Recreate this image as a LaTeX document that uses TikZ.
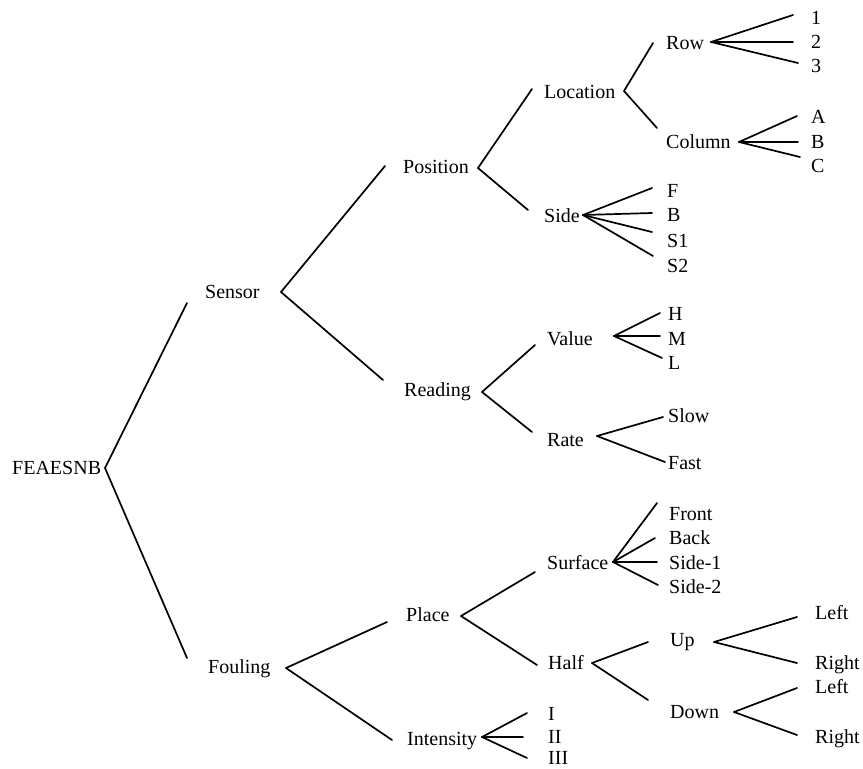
\documentclass[tikz,border=0pt]{standalone}
\usepackage{fontspec}
\setmainfont{Liberation Serif}
\begin{document}
\begin{tikzpicture}[x=1pt,y=-1pt,
  lbl/.style={anchor=west,inner sep=0pt,text height=13.4pt,text depth=0pt,
    font=\fontsize{20}{23}\selectfont},
  edge/.style={line width=1.7pt,line cap=round}]
\useasboundingbox (0,0) rectangle (863,769);

% ---------- labels ----------
\node[lbl] (root) at (12,468) {FEAESNB};
\node[lbl] (sensor) at (205,292) {Sensor};
\node[lbl] (fouling) at (208,667) {Fouling};
\node[lbl] (position) at (403,167) {Position};
\node[lbl] (reading) at (404,390) {Reading};
\node[lbl] (place) at (406,615) {Place};
\node[lbl] (intensity) at (407,739) {Intensity};
\node[lbl] (location) at (544,92) {Location};
\node[lbl] (side) at (544,216) {Side};
\node[lbl] (value) at (547,339) {Value};
\node[lbl] (rate) at (547,440) {Rate};
\node[lbl] (surface) at (547,563) {Surface};
\node[lbl] (half) at (548,663) {Half};
\node[lbl] (up) at (670,640) {Up};
\node[lbl] (down) at (670,712) {Down};
\node[lbl] (row) at (666,43) {Row};
\node[lbl] (column) at (666,142) {Column};

\node[lbl] (r1) at (811,18) {1};
\node[lbl] (r2) at (811,42) {2};
\node[lbl] (r3) at (811,66) {3};
\node[lbl] (ca) at (811,117) {A};
\node[lbl] (cb) at (811,142) {B};
\node[lbl] (cc) at (811,166) {C};
\node[lbl] (sf) at (667,191) {F};
\node[lbl] (sb) at (667,215) {B};
\node[lbl] (s1) at (667,241) {S1};
\node[lbl] (s2) at (667,266) {S2};
\node[lbl] (vh) at (668,314) {H};
\node[lbl] (vm) at (668,339) {M};
\node[lbl] (vl) at (668,363) {L};
\node[lbl] (slow) at (668,416) {Slow};
\node[lbl] (fast) at (668,463) {Fast};
\node[lbl] (front) at (669,514) {Front};
\node[lbl] (back) at (669,538) {Back};
\node[lbl] (sideone) at (669,563) {Side-1};
\node[lbl] (sidetwo) at (669,587) {Side-2};
\node[lbl] (upl) at (815,613) {Left};
\node[lbl] (upr) at (815,663) {Right};
\node[lbl] (downl) at (815,687) {Left};
\node[lbl] (downr) at (815,737) {Right};
\node[lbl] (i1) at (548,714) {I};
\node[lbl] (i2) at (548,737) {II};
\node[lbl] (i3) at (548,758) {III};

% ---------- fork points ----------
\coordinate (root-v) at (105,468);
\coordinate (sensor-v) at (281,292);
\coordinate (fouling-v) at (286,668);
\coordinate (position-v) at (478,168);
\coordinate (reading-v) at (482,392);
\coordinate (place-v) at (461,616);
\coordinate (intensity-v) at (482,737);
\coordinate (location-v) at (624,91);
\coordinate (side-v) at (583,215);
\coordinate (value-v) at (614,336);
\coordinate (rate-v) at (597,436);
\coordinate (surface-v) at (613,562);
\coordinate (half-v) at (592,663);
\coordinate (up-v) at (714,642);
\coordinate (down-v) at (734,712);
\coordinate (row-v) at (711,42);
\coordinate (column-v) at (739,142);

% ---------- branches ----------
\begin{scope}[edge]
\draw (root-v) -- ([shift={(-18,11)}]sensor.west);
\draw (root-v) -- ([shift={(-21,-9)}]fouling.west);

\draw (sensor-v) -- ([shift={(-18,-1)}]position.west);
\draw (sensor-v) -- ([shift={(-21,-10)}]reading.west);

\draw (fouling-v) -- ([shift={(-19,7)}]place.west);
\draw (fouling-v) -- ([shift={(-15,1)}]intensity.west);

\draw (position-v) -- ([shift={(-12,-3)}]location.west);
\draw (position-v) -- ([shift={(-16,-6)}]side.west);

\draw (reading-v) -- ([shift={(-12,6)}]value.west);
\draw (reading-v) -- ([shift={(-15,-8)}]rate.west);

\draw (place-v) -- ([shift={(-12,9)}]surface.west);
\draw (place-v) -- ([shift={(-11,2)}]half.west);

\draw (intensity-v) -- ([shift={(-21,-1)}]i1.west);
\draw (intensity-v) -- ([shift={(-25,0)}]i2.west);
\draw (intensity-v) -- ([shift={(-21,0)}]i3.west);

\draw (location-v) -- ([shift={(-13,0)}]row.west);
\draw (location-v) -- ([shift={(-9,-14)}]column.west);

\draw (side-v) -- ([shift={(-15,-3)}]sf.west);
\draw (side-v) -- ([shift={(-15,-2)}]sb.west);
\draw (side-v) -- ([shift={(-15,-9)}]s1.west);
\draw (side-v) -- ([shift={(-14,-10)}]s2.west);

\draw (row-v) -- ([shift={(-18,-3)}]r1.west);
\draw (row-v) -- ([shift={(-18,0)}]r2.west);
\draw (row-v) -- ([shift={(-13,-3)}]r3.west);

\draw (column-v) -- ([shift={(-14,-1)}]ca.west);
\draw (column-v) -- ([shift={(-13,0)}]cb.west);
\draw (column-v) -- ([shift={(-11,-9)}]cc.west);

\draw (value-v) -- ([shift={(-8,-1)}]vh.west);
\draw (value-v) -- ([shift={(-8,-3)}]vm.west);
\draw (value-v) -- ([shift={(-6,-5)}]vl.west);

\draw (rate-v) -- ([shift={(-5,1)}]slow.west);
\draw (rate-v) -- ([shift={(-3,-1)}]fast.west);

\draw (surface-v) -- ([shift={(-12,-11)}]front.west);
\draw (surface-v) -- ([shift={(-14,0)}]back.west);
\draw (surface-v) -- ([shift={(-12,-1)}]sideone.west);
\draw (surface-v) -- ([shift={(-11,-2)}]sidetwo.west);

\draw (half-v) -- ([shift={(-22,2)}]up.west);
\draw (half-v) -- ([shift={(-22,-12)}]down.west);

\draw (up-v) -- ([shift={(-18,4)}]upl.west);
\draw (up-v) -- ([shift={(-18,0)}]upr.west);

\draw (down-v) -- ([shift={(-18,1)}]downl.west);
\draw (down-v) -- ([shift={(-18,-2)}]downr.west);
\end{scope}
\end{tikzpicture}
\end{document}
